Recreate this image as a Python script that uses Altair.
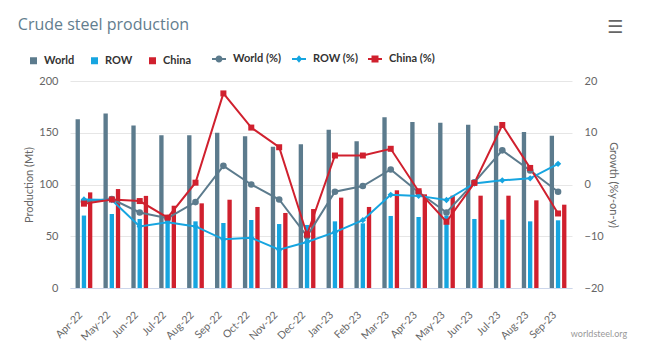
import altair as alt
import pandas as pd

months = ["Apr-22", "May-22", "Jun-22", "Jul-22", "Aug-22", "Sep-22", "Oct-22", "Nov-22", "Dec-22",
          "Jan-23", "Feb-23", "Mar-23", "Apr-23", "May-23", "Jun-23", "Jul-23", "Aug-23", "Sep-23"]
world = [163, 168.5, 157, 147.5, 147.5, 150, 146.5, 136.5, 139, 153, 141.7, 165, 160.4, 159.7, 157.8, 156.8, 150.7, 147]
row = [70, 71.5, 66.7, 66, 64.4, 62.8, 65.7, 61.8, 60.9, 64.4, 62.5, 69.6, 68.6, 70, 66.7, 66, 64.4, 65.4]
china = [92.4, 95.6, 89, 79.5, 81.8, 85.3, 78.3, 72.5, 76.3, 87.3, 78.3, 94.4, 90.5, 89.2, 89.2, 89.2, 84.7, 80.5]
world_pct = [-3.3, -2.8, -5.4, -6.5, -3.4, 3.6, 0.0, -2.9, -10.0, -1.4, -0.3, 2.9, -1.5, -5.4, 0.4, 6.6, 2.7, -1.4]
row_pct = [-2.9, -3.0, -8.1, -7.3, -8.1, -10.6, -10.3, -12.6, -11.1, -9.2, -6.9, -2.0, -2.2, -3.0, 0.2, 0.8, 1.2, 4.0]
china_pct = [-3.7, -2.9, -3.2, -6.4, 0.35, 17.6, 11.0, 7.2, -9.7, 5.6, 5.6, 6.9, -1.3, -7.2, 0.3, 11.5, 3.2, -5.6]

bar_names = ["World", "ROW", "China"]
pct_names = ["World (%)", "ROW (%)", "China (%)"]
colors = ["#5c7b8d", "#16a5e0", "#d0202e"]

bar_df = pd.DataFrame({
    "month": months * 3,
    "series": [bar_names[0]] * 18 + [bar_names[1]] * 18 + [bar_names[2]] * 18,
    "value": world + row + china,
})
pct_df = pd.DataFrame({
    "month": months * 3,
    "series": [pct_names[0]] * 18 + [pct_names[1]] * 18 + [pct_names[2]] * 18,
    "value": world_pct + row_pct + china_pct,
    "order": [0] * 18 + [1] * 18 + [2] * 18,
})

FONT = "Lato"
LABEL = "#666666"

x_axis = alt.Axis(labelAngle=-45, labelAlign="right", labelBaseline="middle", ticks=False,
                  domainColor="#ccd6eb", domainWidth=1, labelColor=LABEL, labelFont=FONT,
                  labelFontSize=10.5, labelPadding=25, labelOffset=-3, grid=False, title=None)
x_enc = alt.X("month:N", sort=months, axis=x_axis,
              scale=alt.Scale(domain=months, paddingInner=0.4, paddingOuter=0.2))

bars = alt.Chart(bar_df).mark_bar().encode(
    x=x_enc,
    xOffset=alt.XOffset("series:N", sort=bar_names,
                        scale=alt.Scale(domain=bar_names, paddingInner=0.3, paddingOuter=0)),
    y=alt.Y("value:Q", scale=alt.Scale(domain=[0, 200], nice=False),
            axis=alt.Axis(orient="left", values=[0, 50, 100, 150, 200], title="Production (Mt)",
                          grid=True, gridColor="#e6e6e6", domain=False, ticks=False,
                          labelPadding=12, titlePadding=4, labelColor=LABEL, titleColor=LABEL,
                          labelFont=FONT, titleFont=FONT, labelFontSize=11, titleFontSize=11,
                          titleFontWeight="normal")),
    color=alt.Color("series:N", scale=alt.Scale(domain=bar_names, range=colors),
                    legend=alt.Legend(orient="none", legendX=-42, legendY=-26, direction="horizontal",
                                      title=None, symbolType="square", symbolSize=49,
                                      symbolStrokeWidth=0, labelFont=FONT, labelFontSize=11,
                                      labelFontWeight="bold", labelColor="#333333", labelOffset=5,
                                      columnPadding=14, padding=0)),
)

y_pct = alt.Scale(domain=[-20, 20], nice=False)

lines = alt.Chart(pct_df).mark_line(strokeWidth=2).encode(
    x=x_enc,
    y=alt.Y("value:Q", scale=y_pct,
            axis=alt.Axis(orient="right", values=[-20, -10, 0, 10, 20], title="Growth (%y-on-y)",
                          grid=False, domain=False, ticks=False, labelPadding=12, titlePadding=4,
                          labelColor=LABEL, titleColor=LABEL, labelFont=FONT, titleFont=FONT,
                          labelFontSize=11, titleFontSize=11, titleFontWeight="normal")),
    color=alt.Color("series:N", scale=alt.Scale(domain=pct_names, range=colors), legend=None),
    detail="series:N",
    order=alt.Order("order:Q"),
)

points = alt.Chart(pct_df).mark_point(filled=True, opacity=1).encode(
    x=x_enc,
    y=alt.Y("value:Q", scale=y_pct, axis=None),
    color=alt.Color("series:N", scale=alt.Scale(domain=pct_names, range=colors), legend=None),
    shape=alt.Shape("series:N", scale=alt.Scale(domain=pct_names, range=["circle", "diamond", "square"]),
                    legend=None),
    size=alt.Size("series:N", scale=alt.Scale(domain=pct_names, range=[44, 36, 52]), legend=None),
)

leg_paths = [
    "M-1,-0.14H1V0.14H-1Z M0.5,0A0.5,0.5 0 1,1 -0.5,0A0.5,0.5 0 1,1 0.5,0Z",
    "M-1,-0.14H1V0.14H-1Z M0,-0.55L0.45,0L0,0.55L-0.45,0Z",
    "M-1,-0.14H1V0.14H-1Z M-0.5,-0.5H0.5V0.5H-0.5Z",
]
leg_kw = dict(orient="none", legendX=142, legendY=-29, direction="horizontal", title=None,
              symbolSize=196, symbolStrokeWidth=0, labelFont=FONT, labelFontSize=11,
              labelFontWeight="bold", labelColor="#333333", labelOffset=7, columnPadding=10, padding=0)

legend_layer = alt.Chart(pct_df).transform_filter("false").mark_point(filled=True, opacity=1).encode(
    color=alt.Color("series:N", scale=alt.Scale(domain=pct_names, range=colors),
                    legend=alt.Legend(**leg_kw)),
    shape=alt.Shape("series:N", scale=alt.Scale(domain=pct_names, range=leg_paths),
                    legend=alt.Legend(**leg_kw)),
)

credit = alt.Chart(pd.DataFrame({"t": ["worldsteel.org"]})).mark_text(
    font=FONT, fontSize=9, color="#999999", align="center", baseline="middle"
).encode(x=alt.value(529), y=alt.value(253), text="t:N")

menu = alt.Chart(pd.DataFrame({"t": ["\u2630"]})).mark_text(
    font="DejaVu Sans", fontSize=18, color="#666666", align="center", baseline="middle"
).encode(x=alt.value(545), y=alt.value(-53), text="t:N")

chart = alt.layer(bars, lines, points, legend_layer, credit, menu).resolve_scale(
    y="independent", color="independent", shape="independent", size="independent"
).properties(
    width=502, height=207,
    padding={"left": 70, "top": 81, "right": 78, "bottom": 69},
    autosize=alt.AutoSizeParams(type="none"),
    title=alt.TitleParams("Crude steel production", anchor="start", font="Open Sans", fontSize=16,
                          fontWeight="normal", color="#627d8e", dx=-6, dy=28, offset=14),
).configure_view(stroke=None)

chart.save("out.html", embed_options={"renderer": "svg", "actions": False})
